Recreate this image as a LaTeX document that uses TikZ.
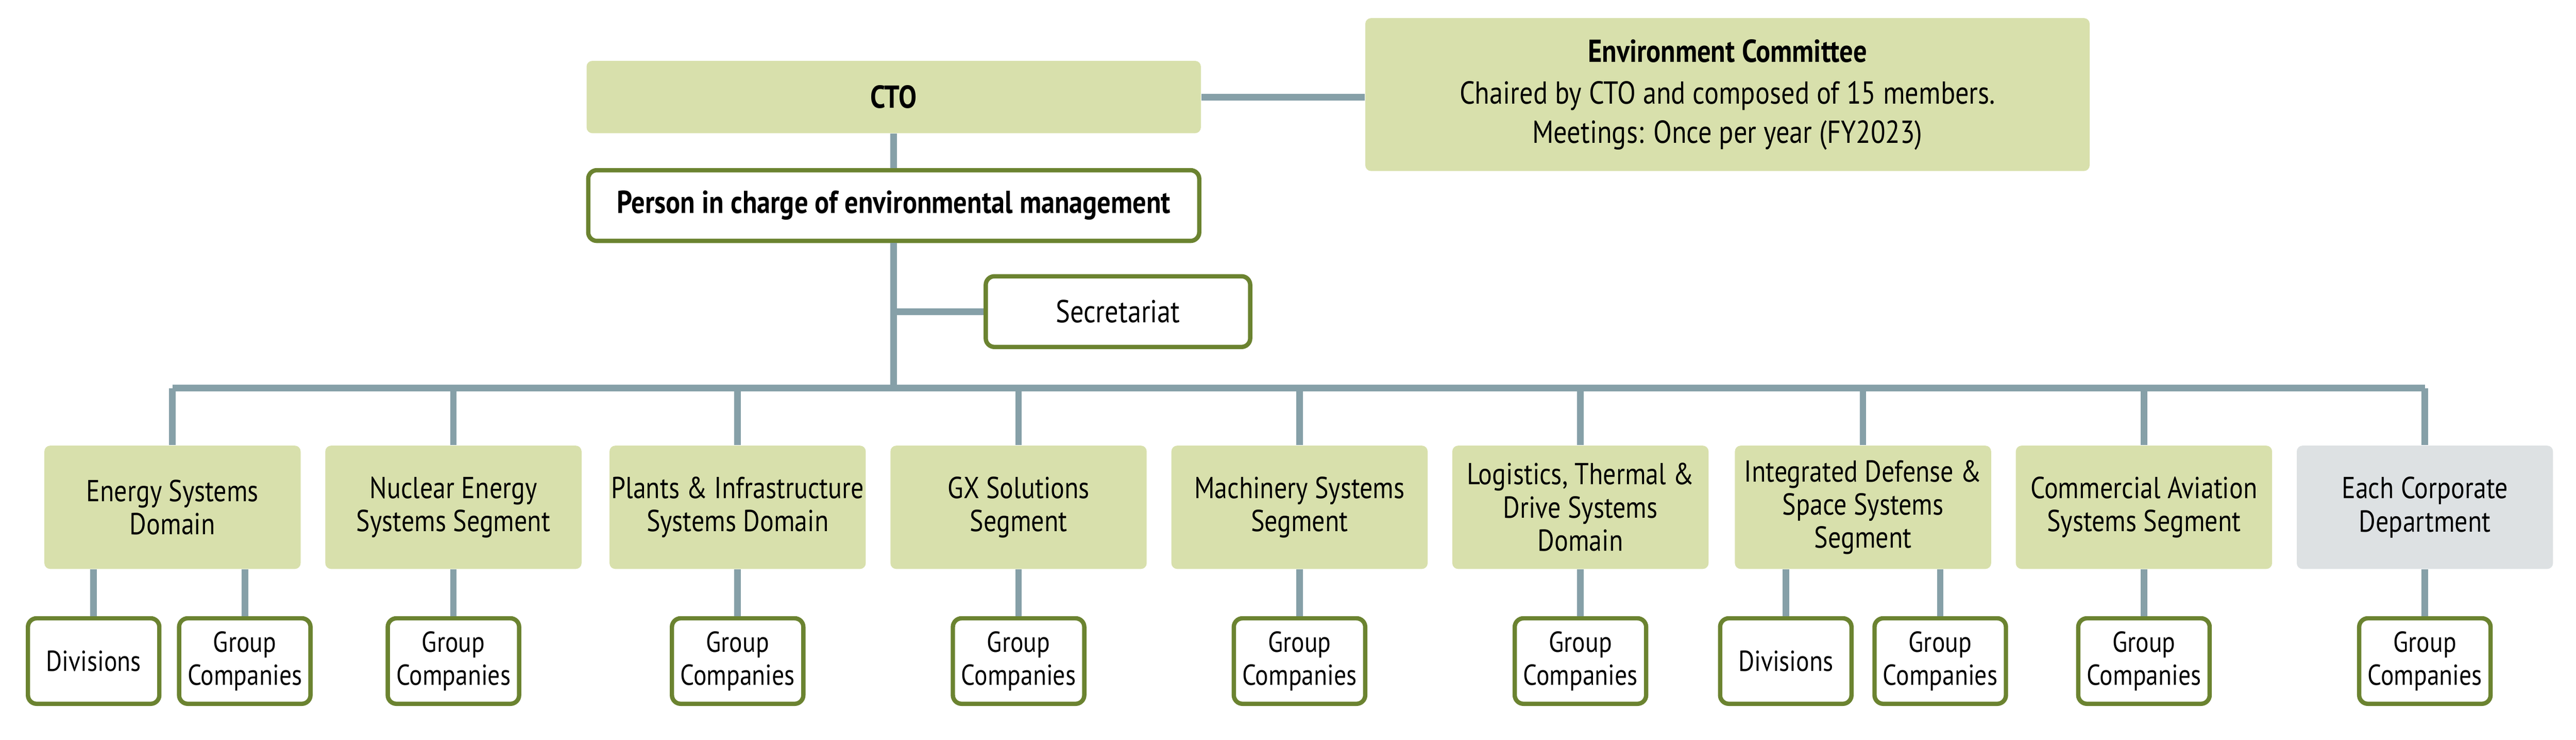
\documentclass[tikz,border=0pt]{standalone}
\usepackage{fontspec}
\setmainfont{PT Sans}[FakeStretch=0.85]
\usetikzlibrary{positioning}
\definecolor{mygreen}{RGB}{216,224,172}
\definecolor{myolive}{RGB}{107,131,48}
\definecolor{mygray}{RGB}{221,225,227}
\definecolor{myline}{RGB}{134,160,168}

\begin{document}
\begin{tikzpicture}[x=0.02cm,y=-0.02cm]

\tikzset{filled/.style={fill=mygreen, rounded corners=2pt, inner sep=0,
    align=center, font=\fontsize{10.5}{11.5}\selectfont},
  framed/.style={draw=myolive, line width=1.5pt, fill=white, rounded corners=3pt,
    inner sep=0, align=center, font=\fontsize{10.5}{11.5}\selectfont},
  conn/.style={draw=myline, line width=0.08cm}}

\useasboundingbox (0,0) rectangle (1568,450);

% =========================
% top of the chart
% =========================
\node[filled, minimum width=7.48cm, minimum height=0.88cm, font=\fontsize{11}{12}\selectfont\bfseries]
    (cto) at (544,59) {CTO};
\node[filled, minimum width=8.82cm, minimum height=1.86cm, font=\fontsize{11}{13.5}\selectfont]
    (committee) at (1051.5,57.5) {\textbf{Environment Committee}\\[1pt]
    Chaired by CTO and composed of 15 members.\\ Meetings: Once per year (FY2023)};
\node[framed, minimum width=7.44cm, minimum height=0.86cm, font=\fontsize{11}{12}\selectfont\bfseries]
    (person) at (544,125) {Person in charge of environmental management};
\node[framed, minimum width=3.22cm, minimum height=0.86cm, font=\fontsize{11}{12}\selectfont]
    (secretariat) at (680.5,189.5) {Secretariat};

\draw[conn] (cto) -- (committee.west |- cto);
\draw[conn] (cto) -- (person);
\coordinate (bus) at (544,236);
\draw[conn] (person) -- (bus);
\draw[conn] (secretariat) -- (secretariat -| person);

% =========================
% segments and domains
% =========================
\foreach \name/\x/\txt in {d1/105/{Energy Systems\\Domain},
    d2/276/{Nuclear Energy\\Systems Segment},
    d3/449/{Plants \& Infrastructure\\Systems Domain},
    d4/620/{GX Solutions\\Segment},
    d5/791/{Machinery Systems\\Segment},
    d6/962/{Logistics, Thermal \&\\Drive Systems\\Domain},
    d7/1134/{Integrated Defense \&\\Space Systems\\Segment},
    d8/1305/{Commercial Aviation\\Systems Segment}}
  \node[filled, minimum width=3.12cm, minimum height=1.5cm] (\name) at (\x,308.5) {\txt};
\node[filled, fill=mygray, minimum width=3.12cm, minimum height=1.5cm]
    (d9) at (1476,308.5) {Each Corporate\\Department};

\draw[conn] (bus -| d1) -- (bus -| d9);
\foreach \name in {d1,d2,d3,d4,d5,d6,d7,d8,d9}
  \draw[conn] (bus -| \name) -- (\name);

% =========================
% divisions and group companies
% =========================
\tikzset{small/.style={framed, minimum width=1.6cm, minimum height=1.04cm,
    font=\fontsize{10}{11.5}\selectfont}}
\node[small] (div1) at (57,402) {Divisions};
\node[small] (grp1) at (149,402) {Group\\Companies};
\node[small] (div7) at (1087,402) {Divisions};
\node[small] (grp7) at (1181,402) {Group\\Companies};
\foreach \name in {d2,d3,d4,d5,d6,d8,d9}
  \node[small] (grp-\name) at (\name |- div1) {Group\\Companies};

\draw[conn] (d1.south -| div1) -- (div1);
\draw[conn] (d1.south -| grp1) -- (grp1);
\draw[conn] (d7.south -| div7) -- (div7);
\draw[conn] (d7.south -| grp7) -- (grp7);
\foreach \name in {d2,d3,d4,d5,d6,d8,d9}
  \draw[conn] (\name) -- (grp-\name);

\end{tikzpicture}
\end{document}
